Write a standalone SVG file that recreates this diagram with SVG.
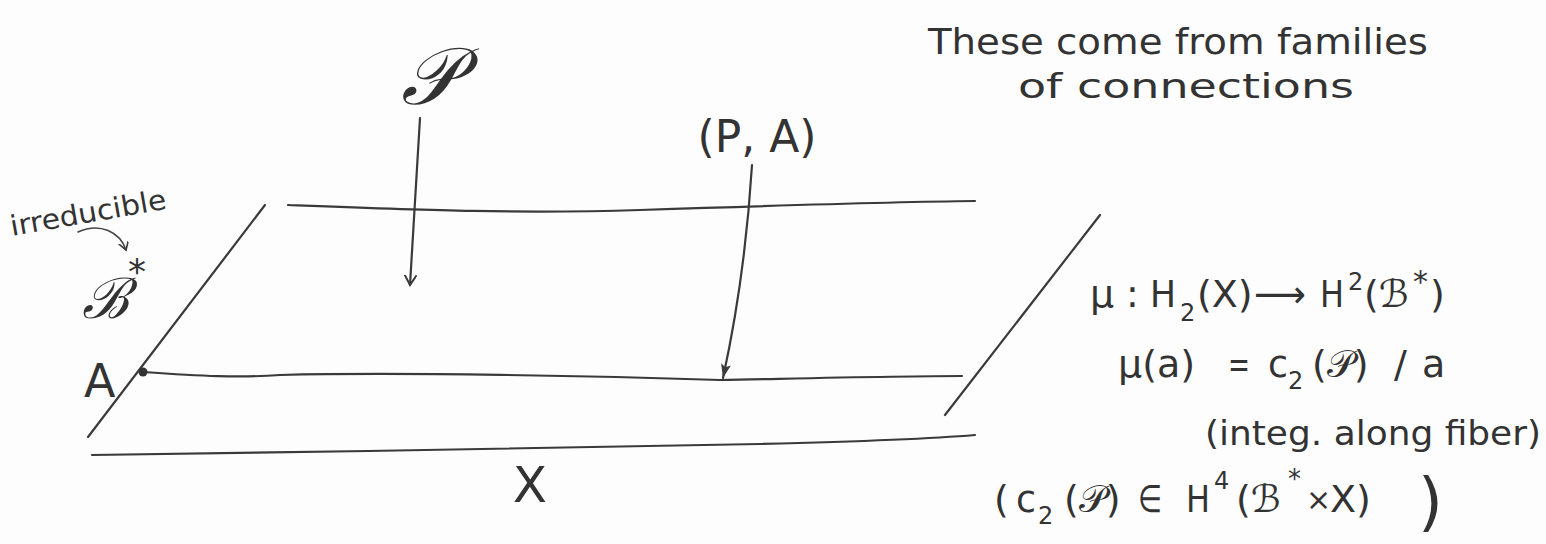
<svg xmlns="http://www.w3.org/2000/svg" width="1546" height="544" viewBox="0 0 1546 544">
<style>
  .ln { fill: none; stroke: #3a3a3a; stroke-width: 2.2; stroke-linecap: round; stroke-linejoin: round; }
  .thin { fill: none; stroke: #444; stroke-width: 1.6; stroke-linecap: round; }
  .t { font-family: "DejaVu Sans", "Liberation Sans", sans-serif; fill: #333; }
  .f { font-family: "DejaVu Sans", "Liberation Sans", sans-serif; fill: #333; font-size: 38px; }
  .sb { font-family: "DejaVu Sans", "Liberation Sans", sans-serif; fill: #333; font-size: 24px; }
  .s { font-family: "DejaVu Serif", "Liberation Serif", serif; font-style: italic; fill: #333; }
</style>
<defs>
  <marker id="vhead" markerWidth="14" markerHeight="14" refX="10" refY="6" orient="auto" markerUnits="userSpaceOnUse">
    <path d="M0,0 L10,6 L0,12" fill="none" stroke="#3a3a3a" stroke-width="2"/>
  </marker>
  <marker id="fhead" markerWidth="16" markerHeight="12" refX="14" refY="5" orient="auto" markerUnits="userSpaceOnUse">
    <path d="M0,0 L14,5 L0,10 L3,5 Z" fill="#3a3a3a"/>
  </marker>
  <marker id="shead" markerWidth="12" markerHeight="12" refX="8" refY="5" orient="auto" markerUnits="userSpaceOnUse">
    <path d="M0,0 L8,5 L0,10" fill="none" stroke="#3a3a3a" stroke-width="1.6"/>
  </marker>
</defs>
<rect width="1546" height="544" fill="#fdfdfd"/>

<g id="connectors">
  <path class="ln" d="M288,205 C420,210 520,214 640,210 C760,206 880,202 975,201"/>
  <path class="ln" d="M265,205 L88,437"/>
  <path class="ln" d="M143,372 C200,376 240,378 280,375 C400,372 600,376 720,380 C820,378 900,376 962,376"/>
  <path class="ln" d="M1100,215 L945,415"/>
  <path class="ln" d="M92,455 C300,452 600,448 760,444 C880,441 940,438 975,435"/>
  <path class="ln" d="M420,118 L410,285" marker-end="url(#vhead)"/>
  <path class="ln" d="M752,165 C748,230 740,300 723,378" marker-end="url(#fhead)"/>
  <path class="thin" d="M78,232 C100,222 120,232 126,250" marker-end="url(#shead)"/>
  <circle cx="143" cy="372" r="4.5" fill="#333"/>
</g>

<g id="node-P">
  <text class="s" x="430" y="104" font-size="80" text-anchor="middle">𝒫</text>
</g>
<g id="node-PA">
  <text class="t" x="757" y="152" font-size="44" text-anchor="middle">(P, A)</text>
</g>
<g id="node-irreducible">
  <text class="t" x="12" y="236" font-size="28" textLength="158" lengthAdjust="spacingAndGlyphs" transform="rotate(-10 12 236)">irreducible</text>
</g>
<g id="node-Bstar">
  <text class="s" x="82" y="318" font-size="56">ℬ</text>
  <text class="t" x="128" y="284" font-size="36">*</text>
</g>
<g id="node-A">
  <text class="t" x="84" y="397" font-size="46">A</text>
</g>
<g id="node-X">
  <text class="t" x="530" y="502" font-size="50" text-anchor="middle">X</text>
</g>
<g id="node-title">
  <text class="t" x="928" y="54" font-size="36" textLength="500" lengthAdjust="spacingAndGlyphs">These come from families</text>
  <text class="t" x="1018" y="98" font-size="34" textLength="336" lengthAdjust="spacingAndGlyphs">of connections</text>
</g>
<g id="node-formulas">
  <!-- line 1 -->
  <text class="f" x="1090" y="307">μ</text>
  <text class="f" x="1126" y="307">:</text>
  <text class="f" x="1150" y="307" textLength="26" lengthAdjust="spacingAndGlyphs">H</text>
  <text class="sb" x="1180" y="321">2</text>
  <text class="f" x="1197" y="307">(X)</text>
  <text class="f" x="1254" y="307" textLength="52" lengthAdjust="spacingAndGlyphs">⟶</text>
  <text class="f" x="1320" y="307" textLength="24" lengthAdjust="spacingAndGlyphs">H</text>
  <text class="sb" x="1348" y="290" font-size="22">2</text>
  <text class="f" x="1364" y="307">(ℬ</text>
  <text class="t" x="1413" y="292" font-size="30">*</text>
  <text class="f" x="1430" y="307">)</text>
  <!-- line 2 -->
  <text class="f" x="1118" y="377">μ(a)</text>
  <text class="f" x="1228" y="377" textLength="22" lengthAdjust="spacingAndGlyphs">=</text>
  <text class="f" x="1268" y="377" textLength="20" lengthAdjust="spacingAndGlyphs">c</text>
  <text class="sb" x="1288" y="389">2</text>
  <text class="f" x="1312" y="377">(𝒫)</text>
  <text class="f" x="1394" y="377">/</text>
  <text class="f" x="1422" y="377">a</text>
  <!-- line 3 -->
  <text class="t" x="1205" y="445" font-size="34" textLength="336" lengthAdjust="spacingAndGlyphs">(integ. along fiber)</text>
  <!-- line 4 -->
  <text class="f" x="994" y="512">(</text>
  <text class="f" x="1016" y="512" textLength="20" lengthAdjust="spacingAndGlyphs">c</text>
  <text class="sb" x="1038" y="524">2</text>
  <text class="f" x="1064" y="512">(𝒫)</text>
  <text class="f" x="1138" y="512" textLength="24" lengthAdjust="spacingAndGlyphs">∈</text>
  <text class="f" x="1186" y="512" textLength="24" lengthAdjust="spacingAndGlyphs">H</text>
  <text class="sb" x="1214" y="489">4</text>
  <text class="f" x="1236" y="512">(ℬ</text>
  <text class="t" x="1288" y="488" font-size="26">*</text>
  <text class="t" x="1306" y="510" font-size="30">×</text>
  <text class="f" x="1330" y="512">X)</text>
  <text class="t" x="1418" y="524" font-size="64">)</text>
</g>
</svg>
